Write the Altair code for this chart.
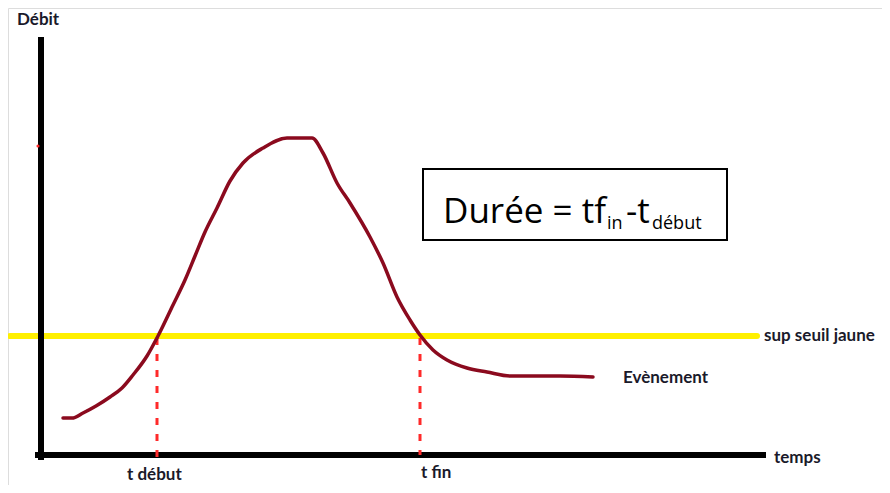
import altair as alt
import pandas as pd

# Hydrograph (image-like units: temps to the right, débit upwards -> y reversed)
curve_t = [63, 72, 83, 96, 110, 122, 133, 147, 158, 173, 185, 195, 205, 217, 230, 243, 263, 287, 312,
           323, 337, 350, 370, 383, 397, 410, 420, 433, 447, 467, 487, 510, 533, 560, 593]
curve_q = [418, 418, 413, 406, 397, 388, 375, 356, 336, 305, 280, 256, 232, 208, 181, 163, 148, 138, 138,
           153, 183, 203, 237, 263, 297, 320, 335, 350, 360, 368, 372, 376, 376, 376, 377]

threshold = 336          # "sup seuil jaune"
t_debut = 157
t_fin = 420

W, H = 874, 477
X_DOMAIN = [8, 8 + W]
Y_DOMAIN = [8, 8 + H]

xs = alt.Scale(domain=X_DOMAIN, nice=False, zero=False)
ys = alt.Scale(domain=Y_DOMAIN, nice=False, zero=False, reverse=True)


def X(f="x"):
    return alt.X(f"{f}:Q", scale=xs, axis=None)


def Y(f="y"):
    return alt.Y(f"{f}:Q", scale=ys, axis=None)


curve_df = pd.DataFrame({"x": curve_t, "y": curve_q})

axes_df = pd.DataFrame({
    "x": [41, 38], "x2": [41, 763],
    "y": [40, 455], "y2": [457, 455],
})
thr_df = pd.DataFrame({"x": [10], "x2": [757], "y": [threshold], "y2": [threshold]})
dash_df = pd.DataFrame({"x": [t_debut, t_fin], "x2": [t_debut, t_fin],
                        "y": [338, 338], "y2": [463, 455]})
box_df = pd.DataFrame({"x": [423], "x2": [727], "y": [169], "y2": [240]})
dot_df = pd.DataFrame({"x": [38], "y": [146]})

label_text = ["Débit", "sup seuil jaune", "Evènement", "temps", "t début", "t fin"]
label_x = [17, 764, 623, 774, 127, 421]
label_y = [25, 341, 383, 463, 480, 478]
labels_df = pd.DataFrame({"t": label_text, "x": label_x, "y": label_y})

big_df = pd.DataFrame({"t": ["Durée = tf", "-t"], "x": [443, 626], "y": [223, 223]})
sub_df = pd.DataFrame({"t": ["in", "début"], "x": [607, 652], "y": [229, 229]})

axes = alt.Chart(axes_df).mark_rule(color="black", strokeWidth=6, strokeCap="square").encode(
    x=X(), x2="x2:Q", y=Y(), y2="y2:Q")
thr = alt.Chart(thr_df).mark_rule(color="#FFF000", strokeWidth=6, strokeCap="round").encode(
    x=X(), x2="x2:Q", y=Y(), y2="y2:Q")
dashes = alt.Chart(dash_df).mark_rule(color="#FF2A2A", strokeWidth=3, strokeDash=[7, 9]).encode(
    x=X(), x2="x2:Q", y=Y(), y2="y2:Q")
line = alt.Chart(curve_df).mark_line(color="#8B0A1E", strokeWidth=3.5, interpolate="monotone",
                                     strokeCap="round").encode(x=X(), y=Y())
box = alt.Chart(box_df).mark_rect(fill="white", stroke="black", strokeWidth=2).encode(
    x=X(), x2="x2:Q", y=Y(), y2="y2:Q")
dot = alt.Chart(dot_df).mark_point(filled=True, color="#FF2A2A", size=10, opacity=1).encode(x=X(), y=Y())

labels = alt.Chart(labels_df).mark_text(font="Lato", fontWeight="bold", fontSize=17, align="left",
                                        baseline="alphabetic", color="#1A1A2A").encode(
    x=X(), y=Y(), text="t:N")
big = alt.Chart(big_df).mark_text(font="Open Sans", fontSize=35, align="left",
                                  baseline="alphabetic", color="black").encode(x=X(), y=Y(), text="t:N")
sub = alt.Chart(sub_df).mark_text(font="Open Sans", fontSize=18, align="left",
                                  baseline="alphabetic", color="black").encode(x=X(), y=Y(), text="t:N")

chart = alt.layer(thr, axes, dashes, line, dot, box, big, sub, labels).properties(
    width=W, height=H, padding=0, autosize=alt.AutoSizeParams(type="none")
).configure_view(stroke="white", strokeWidth=0).configure(background="white")

chart.save("out.html", embed_options={"renderer": "svg", "actions": False})
